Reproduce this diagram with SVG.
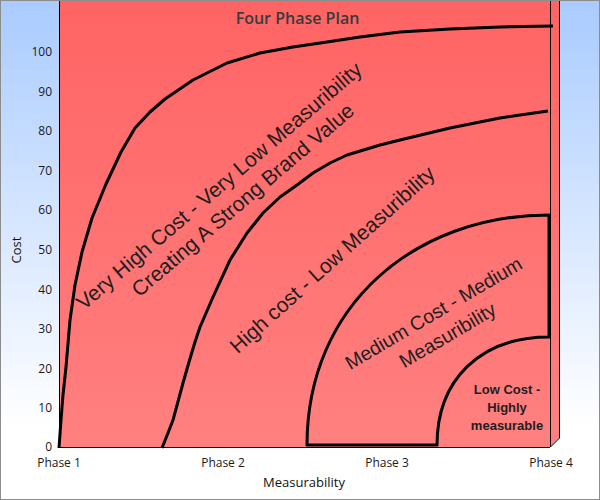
<svg xmlns="http://www.w3.org/2000/svg" width="600" height="500" viewBox="0 0 600 500">
  <defs>
    <linearGradient id="bg" x1="0" y1="0" x2="0" y2="1">
      <stop offset="0" stop-color="#a9cbff"/>
      <stop offset="0.85" stop-color="#ffffff"/>
      <stop offset="1" stop-color="#ffffff"/>
    </linearGradient>
    <linearGradient id="plot" x1="0" y1="0" x2="0" y2="1">
      <stop offset="0" stop-color="#ff6464"/>
      <stop offset="1" stop-color="#ff8080"/>
    </linearGradient>
    <style>
      .tick { font-family: "Open Sans", "Noto Sans", sans-serif; font-size: 12px; fill: #1a1a1a; }
      .ytick { text-anchor: end; }
      .xtick { text-anchor: middle; }
      .axis { font-family: "Open Sans", "Noto Sans", sans-serif; font-size: 13px; fill: #111; text-anchor: middle; }
      .zone { font-family: "Liberation Sans", Arial, sans-serif; fill: #1e1e1e; text-anchor: middle; }
      .curve { fill: none; stroke: #000; stroke-width: 3; stroke-linejoin: round; stroke-linecap: butt; }
      .edge { fill: none; stroke: #000; stroke-width: 1; }
    </style>
  </defs>

  <rect x="0.5" y="0.5" width="599" height="499" fill="url(#bg)" stroke="#8c8c8c" stroke-width="1"/>

  <g id="plot-area">
    <rect x="59" y="1" width="491" height="446" fill="url(#plot)"/>
    <polygon points="550,1 559,1 559,438 550,447" fill="url(#plot)"/>
    <line class="edge" x1="59.5" y1="1" x2="59.5" y2="447"/>
    <line class="edge" x1="59" y1="447.5" x2="550" y2="447.5"/>
    <line class="edge" x1="550.5" y1="1" x2="550.5" y2="447"/>
    <line class="edge" x1="559.5" y1="1" x2="559.5" y2="438"/>
    <line class="edge" x1="550.5" y1="447" x2="559.5" y2="438"/>
  </g>

  <g id="title">
    <text x="297.5" y="24" font-family="'Open Sans', 'Noto Sans', sans-serif" font-size="16" font-weight="600" fill="#3a3a3a" text-anchor="middle">Four Phase Plan</text>
  </g>

  <g id="y-axis">
    <text class="tick ytick" x="52" y="451">0</text>
    <text class="tick ytick" x="52" y="412.4">10</text>
    <text class="tick ytick" x="52" y="372.8">20</text>
    <text class="tick ytick" x="52" y="333.2">30</text>
    <text class="tick ytick" x="52" y="293.6">40</text>
    <text class="tick ytick" x="52" y="254">50</text>
    <text class="tick ytick" x="52" y="214.4">60</text>
    <text class="tick ytick" x="52" y="174.8">70</text>
    <text class="tick ytick" x="52" y="135.2">80</text>
    <text class="tick ytick" x="52" y="95.6">90</text>
    <text class="tick ytick" x="52" y="56">100</text>
    <text class="axis" transform="translate(21,250) rotate(-90)">Cost</text>
  </g>

  <g id="x-axis">
    <text class="tick xtick" x="59" y="467">Phase 1</text>
    <text class="tick xtick" x="223" y="467">Phase 2</text>
    <text class="tick xtick" x="387" y="467">Phase 3</text>
    <text class="tick xtick" x="551" y="467">Phase 4</text>
    <text class="axis" x="304" y="487">Measurability</text>
  </g>

  <g id="connectors">
    <polyline class="curve" points="59,448 61,420 63,395 66,367 70,320 75,285 82,252 92,218 106,184 121,152 135,128 150,112 165,99 193,80 227,63 260,53 293,47 327,42 360,37 400,32 450,29 500,27 553,26"/>
    <polyline class="curve" points="162,448 168,433 173,420 183,383 189,362 195,342 200,327 213,297 230,260 247,233 263,213 280,197 297,185 313,173 330,163 347,155 380,145 400,140 450,128 500,118 548,111"/>
  </g>

  <g id="zone-very-high">
    <g transform="rotate(-40.5 223 192)">
      <text class="zone" font-size="21" x="224" y="192">Very High Cost - Very Low Measuribility</text>
      <text class="zone" font-size="21" x="233" y="218">Creating A Strong Brand Value</text>
    </g>
  </g>

  <g id="zone-high">
    <text class="zone" font-size="21" transform="rotate(-42 337 265)" x="337" y="265">High cost - Low Measuribility</text>
  </g>

  <g id="zone-medium">
    <path class="curve" d="M307,445 C307,305 415,215 549,215 L549,337 C480,337 437,380 437,445 Z"/>
    <g transform="rotate(-30.5 437 319)">
      <text class="zone" font-size="19.5" x="437" y="319">Medium Cost - Medium</text>
      <text class="zone" font-size="19.5" x="438" y="345">Measuribility</text>
    </g>
  </g>

  <g id="zone-low">
    <text class="zone" font-size="13" font-weight="bold" x="507" y="394">Low Cost -</text>
    <text class="zone" font-size="13" font-weight="bold" x="507" y="412">Highly</text>
    <text class="zone" font-size="13" font-weight="bold" x="507" y="430">measurable</text>
  </g>
</svg>
